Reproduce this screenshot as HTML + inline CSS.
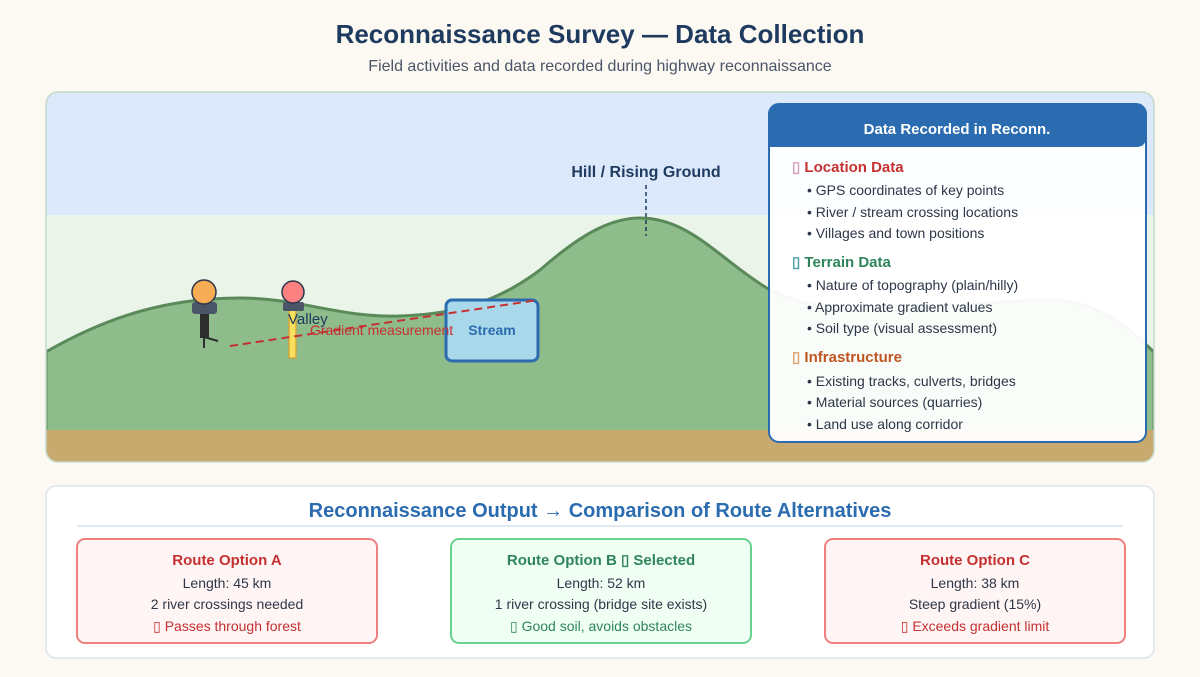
<!DOCTYPE html>
<html><head><meta charset="utf-8"><style>
html,body{margin:0;padding:0;background:#fcf9f2;}
svg{display:block;font-family:"Liberation Sans",sans-serif;}
</style></head><body>
<svg width="1200" height="677" viewBox="0 0 1200 677" xmlns="http://www.w3.org/2000/svg">
<rect width="1200" height="677" fill="#fcf9f2"/>
<text x="600" y="43" text-anchor="middle" font-size="26" font-weight="bold" fill="#1e3a5f">Reconnaissance Survey — Data Collection</text>
<text x="600" y="71" text-anchor="middle" font-size="16" fill="#4a5568">Field activities and data recorded during highway reconnaissance</text>
<defs><clipPath id="sc"><rect x="46" y="92" width="1108" height="370" rx="12"/></clipPath></defs>
<g clip-path="url(#sc)">
<rect x="46" y="92" width="1108" height="370" fill="#eaf4e8"/>
<rect x="46" y="92" width="1108" height="123" fill="#dbe9fb"/>
<path d="M46,352 C110,315 170,298 240,298 C300,298 340,318 400,316 C460,314 500,300 540,270 C580,235 610,218 640,218 C690,218 720,260 770,290 C850,330 950,300 1050,300 C1100,300 1130,330 1154,352 L1154,462 L46,462 Z" fill="#8fbc8b" stroke="#5a8a5a" stroke-width="3"/>
<rect x="46" y="430" width="1108" height="32" fill="#c8a96e"/>
</g>
<rect x="46" y="92" width="1108" height="370" rx="12" fill="none" stroke="#c5d9c9" stroke-width="1.5"/>
<text x="646" y="177" text-anchor="middle" font-size="16" font-weight="bold" fill="#1e3a5f">Hill / Rising Ground</text>
<line x1="646" y1="185" x2="646" y2="236" stroke="#1e3a5f" stroke-width="1.5" stroke-dasharray="4,3"/>
<!-- surveyor -->
<rect x="200" y="310" width="9" height="28" fill="#2d2d2d"/>
<line x1="204" y1="337" x2="204" y2="348" stroke="#2d2d2d" stroke-width="2"/>
<line x1="204" y1="337" x2="218" y2="341" stroke="#2d2d2d" stroke-width="2"/>
<rect x="192" y="302" width="25" height="12" rx="3" fill="#4a5568"/>
<circle cx="204" cy="292" r="12" fill="#f6ad55" stroke="#2d3748" stroke-width="1.5"/>
<!-- staff -->
<rect x="289" y="310" width="7" height="48" fill="#f6e05e" stroke="#d69e2e" stroke-width="1.2"/>
<rect x="283" y="302" width="21" height="9" rx="2" fill="#4a5568"/>
<circle cx="293" cy="292" r="11" fill="#fc8181" stroke="#2d3748" stroke-width="1.5"/>
<text x="288" y="324" font-size="15" fill="#1e3a5f">Valley</text>
<rect x="446" y="300" width="92" height="61" rx="6" fill="#a8d8ea" stroke="#2b6cb0" stroke-width="3"/>
<text x="492" y="335" text-anchor="middle" font-size="14" font-weight="bold" fill="#2b6cb0">Stream</text>
<line x1="230" y1="346" x2="538" y2="300" stroke="#c53030" stroke-width="2" stroke-dasharray="8,5"/>
<text x="310" y="335" font-size="14" fill="#c53030">Gradient measurement</text>
<!-- data box -->
<rect x="769" y="104" width="377" height="338" rx="10" fill="#ffffff" fill-opacity="0.95" stroke="#2b6cb0" stroke-width="2"/>
<path d="M769,147 L769,114 Q769,104 779,104 L1136,104 Q1146,104 1146,114 L1146,137 Q1146,147 1136,147 Z" fill="#2b6cb0"/>
<text x="957" y="134" text-anchor="middle" font-size="15" font-weight="bold" fill="#fff">Data Recorded in Reconn.</text>
<g font-size="14" fill="#2d3748">
<text x="792" y="172" font-weight="bold" fill="#c53030" font-size="15"><tspan fill="#d8a0c0">▯</tspan> Location Data</text>
<text x="807" y="195">• GPS coordinates of key points</text>
<text x="807" y="217">• River / stream crossing locations</text>
<text x="807" y="238">• Villages and town positions</text>
<text x="792" y="267" font-weight="bold" fill="#2f855a" font-size="15"><tspan fill="#4aa0b0">▯</tspan> Terrain Data</text>
<text x="807" y="290">• Nature of topography (plain/hilly)</text>
<text x="807" y="312">• Approximate gradient values</text>
<text x="807" y="333">• Soil type (visual assessment)</text>
<text x="792" y="362" font-weight="bold" fill="#c05621" font-size="15"><tspan fill="#e0a070">▯</tspan> Infrastructure</text>
<text x="807" y="386">• Existing tracks, culverts, bridges</text>
<text x="807" y="407">• Material sources (quarries)</text>
<text x="807" y="429">• Land use along corridor</text>
</g>
<!-- bottom -->
<rect x="46" y="486" width="1108" height="172" rx="10" fill="#fff" stroke="#dde3ea" stroke-width="1.5"/>
<text x="600" y="517" text-anchor="middle" font-size="20" font-weight="bold" fill="#2b6cb0">Reconnaissance Output → Comparison of Route Alternatives</text>
<line x1="77" y1="526" x2="1123" y2="526" stroke="#d6e0ec" stroke-width="1.5"/>
<g font-size="14" text-anchor="middle">
<rect x="77" y="539" width="300" height="104" rx="8" fill="#fff5f5" stroke="#f08080" stroke-width="2"/>
<text x="227" y="565" font-weight="bold" font-size="15" fill="#c53030">Route Option A</text>
<text x="227" y="588" fill="#2d3748">Length: 45 km</text>
<text x="227" y="609" fill="#2d3748">2 river crossings needed</text>
<text x="227" y="631" fill="#c53030">▯ Passes through forest</text>
<rect x="451" y="539" width="300" height="104" rx="8" fill="#f0fff4" stroke="#68d391" stroke-width="2"/>
<text x="601" y="565" font-weight="bold" font-size="15" fill="#2f855a">Route Option B ▯ Selected</text>
<text x="601" y="588" fill="#2d3748">Length: 52 km</text>
<text x="601" y="609" fill="#2d3748">1 river crossing (bridge site exists)</text>
<text x="601" y="631" fill="#2f855a">▯ Good soil, avoids obstacles</text>
<rect x="825" y="539" width="300" height="104" rx="8" fill="#fff5f5" stroke="#f08080" stroke-width="2"/>
<text x="975" y="565" font-weight="bold" font-size="15" fill="#c53030">Route Option C</text>
<text x="975" y="588" fill="#2d3748">Length: 38 km</text>
<text x="975" y="609" fill="#2d3748">Steep gradient (15%)</text>
<text x="975" y="631" fill="#c53030">▯ Exceeds gradient limit</text>
</g>
</svg>
</body></html>
